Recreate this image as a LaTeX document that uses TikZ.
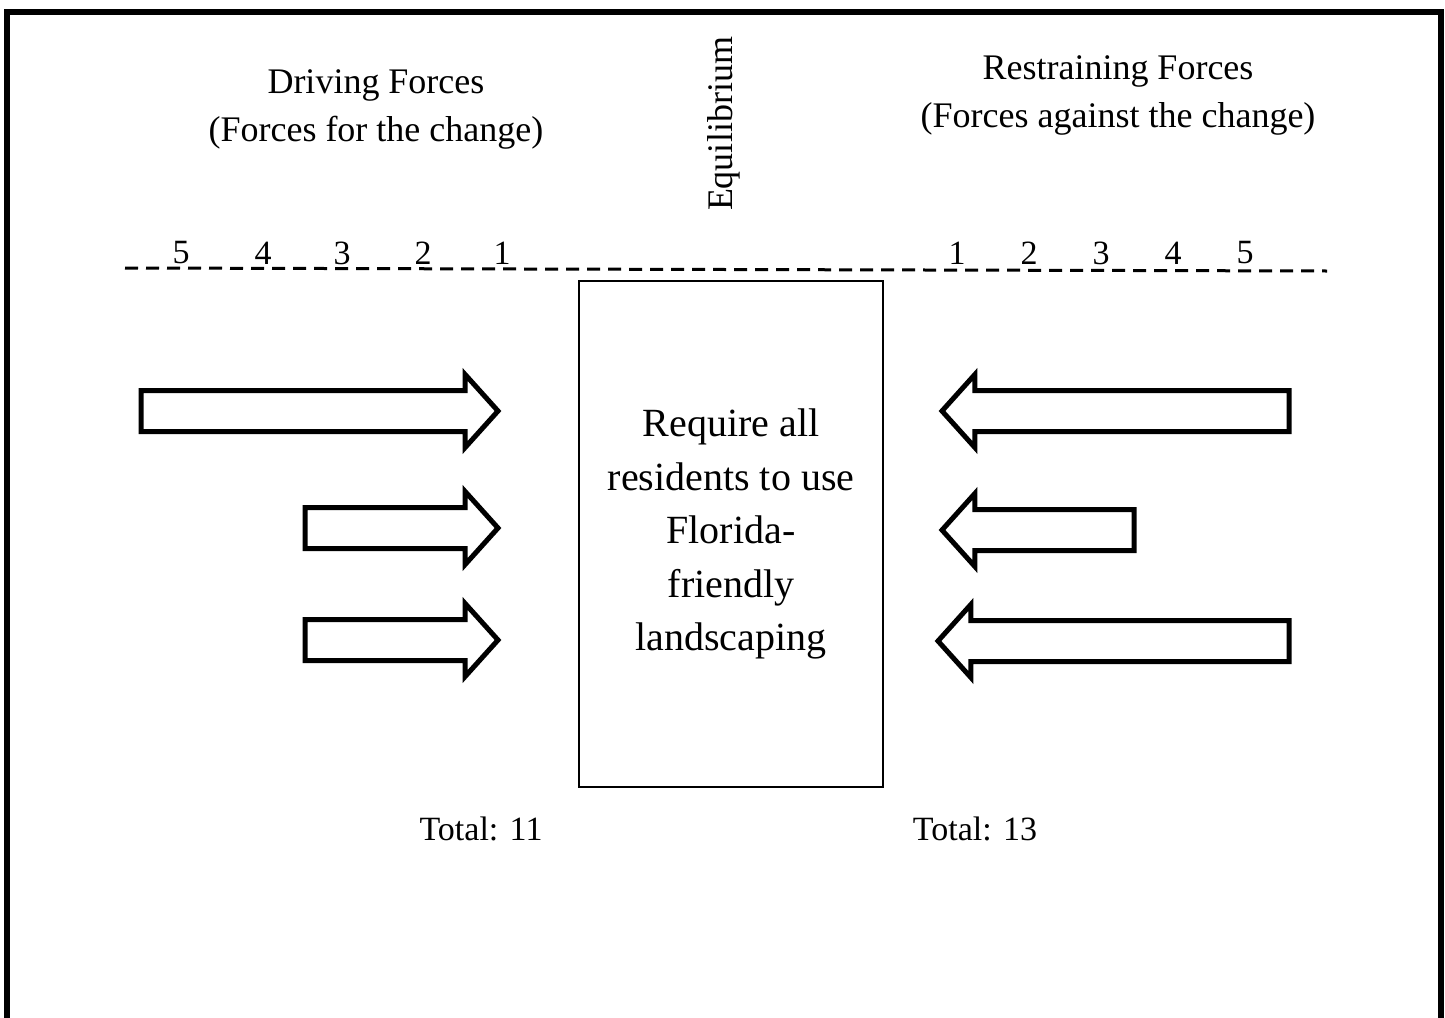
\documentclass[tikz,border=0pt]{standalone}
\usepackage{fontspec}
\setmainfont{Liberation Serif}
\usetikzlibrary{shapes.arrows}

\begin{document}
\begin{tikzpicture}[x=0.5pt, y=-0.5pt,
    heading/.style={align=center, font=\fontsize{18}{24}\selectfont},
    scalenum/.style={font=\fontsize{17}{20}\selectfont, inner sep=0pt},
    total/.style={font=\fontsize{17}{20}\selectfont},
    force/.style={draw, line width=2.5pt, single arrow, inner xsep=0pt, inner ysep=9pt, outer sep=0pt,
        single arrow head extend=8pt, single arrow tip angle=96}]
        \useasboundingbox (0,0) rectangle (1445,1017);
        % frame, open at the bottom
        \draw[line width=3pt] (7,1040) -- (7,12) -- (1441,12) -- (1441,1040);
        \node[heading] (drive) at (376,109) {Driving Forces\\(Forces for the change)};
        \node[heading] (restrain) at (1118,95) {Restraining Forces\\(Forces against the change)};
        \node[heading, rotate=90] (equi) at (724,124) {Equilibrium};
        % scale
        \coordinate (dl) at (125,268);
        \coordinate (dr) at (1327,271);
        \draw[line width=1.5pt, dash pattern=on 6.5pt off 4pt] (dl) -- (dr);
        \foreach \n/\x in {5/181, 4/263, 3/342, 2/423, 1/502}
            \node[scalenum] (l\n) at (\x,253) {\n};
        \foreach \n/\x in {1/957, 2/1029, 3/1101, 4/1173, 5/1245}
            \node[scalenum] (r\n) at (\x,253) {\n};
        % the change
        \node[draw, line width=1pt, minimum width=152pt, minimum height=253pt, align=center,
            font=\fontsize{20}{26.75}\selectfont] (change) at (731,534)
            {Require all\\residents to use\\Florida-\\friendly\\landscaping};
        % forces
        \node[force, minimum height=178.5pt, anchor=tip] (d1) at (498,411) {};
        \node[force, minimum height=96.5pt, anchor=tip] (d2) at (498,528) {};
        \node[force, minimum height=96.5pt, anchor=tip] (d3) at (498,640) {};
        \node[force, shape border rotate=180, minimum height=173.5pt, anchor=tip] (f1) at (942,411) {};
        \node[force, shape border rotate=180, minimum height=96pt, anchor=tip] (f2) at (942,530) {};
        \node[force, shape border rotate=180, minimum height=175.5pt, anchor=tip] (f3) at (938,641) {};
        \node[total] (ltot) at (481,829) {Total: 11};
        \node[total] (rtot) at (975,829) {Total: 13};
    \end{tikzpicture}
\end{document}
